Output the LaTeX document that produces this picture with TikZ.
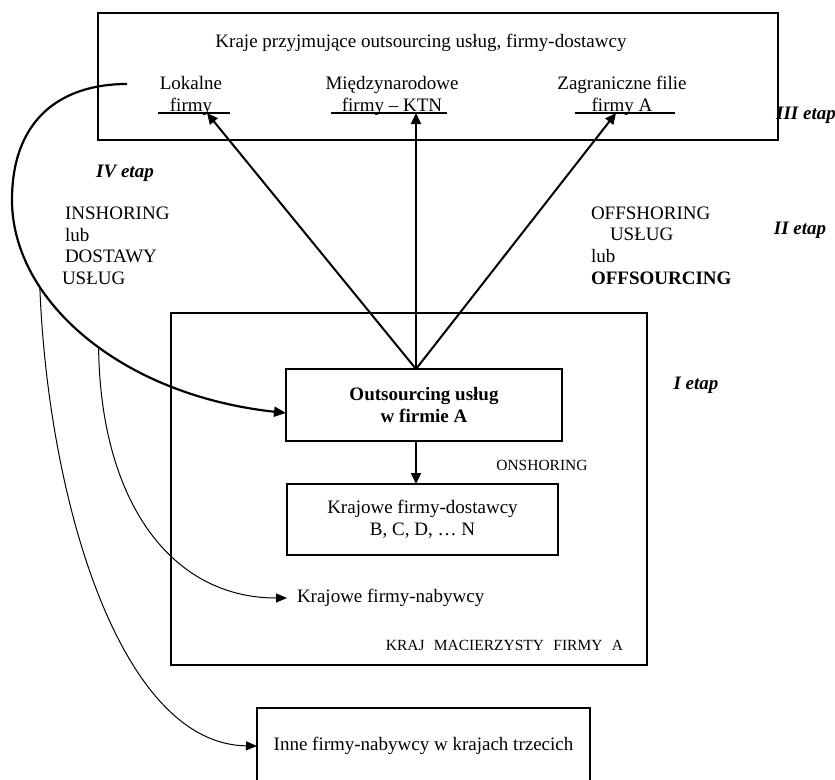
\documentclass[tikz,border=0pt]{standalone}
\usepackage{fontspec}
\setmainfont{Liberation Serif}
\usetikzlibrary{arrows.meta}
\begin{document}
\begin{tikzpicture}[x=1pt,y=-1pt,
  every node/.style={inner sep=0pt, outer sep=0pt},
  txt/.style={font=\fontsize{19}{22}\selectfont},
  small/.style={font=\fontsize{15.5}{18}\selectfont},
  etap/.style={font=\fontsize{19}{22}\selectfont\bfseries\itshape},
  frame/.style={draw, line width=1.2pt},
  bigarr/.style={line width=2pt, -{Triangle[length=11pt,width=10pt]}},
  thinarr/.style={line width=1pt, -{Triangle[length=11pt,width=9pt]}},
  uline/.style={line width=2pt},
]
\path[use as bounding box, fill=white] (0,0) rectangle (835,779);
\clip (0,0) rectangle (835,779);

% top box
\node[frame, minimum width=680pt, minimum height=127pt, anchor=north west] (top) at (98,13) {};
\node[txt] (title) at (421,43) {Kraje przyjmujące outsourcing usług, firmy-dostawcy};
\node[txt, align=center] (lok) at (191,96) {Lokalne\\firmy};
\node[txt, align=center] (mie) at (392,96) {Międzynarodowe\\firmy – KTN};
\node[txt, align=center] (zag) at (622,96) {Zagraniczne filie\\firmy A};

\coordinate (lokL) at (158,113); \coordinate (lokR) at (230,113); \coordinate (lokT) at (207,113);
\coordinate (mieL) at (331,113); \coordinate (mieR) at (447,113); \coordinate (mieT) at (416,113);
\coordinate (zagL) at (575,113); \coordinate (zagR) at (675,113); \coordinate (zagT) at (616,113);
\draw[uline] (lokL) -- (lokR);
\draw[uline] (mieL) -- (mieR);
\draw[uline] (zagL) -- (zagR);

% stage labels
\node[etap] (e3) at (806,115) {III etap};
\node[etap] (e2) at (800,230) {II etap};
\node[etap] (e4) at (125,173) {IV etap};
\node[etap] (e1) at (696,385) {I etap};

% left text block
\node[txt, anchor=west] (ins1) at (65,213) {INSHORING};
\node[txt, anchor=west] (ins2) at (65,235) {lub};
\node[txt, anchor=west] (ins3) at (65,256) {DOSTAWY};
\node[txt, anchor=west] (ins4) at (62,278) {USŁUG};

% right text block
\node[txt, anchor=west] (off1) at (591,213) {OFFSHORING};
\node[txt, anchor=west] (off2) at (610,234) {USŁUG};
\node[txt, anchor=west] (off3) at (591,256) {lub};
\node[txt, anchor=west, font=\fontsize{19}{22}\selectfont\bfseries] (off4) at (591,278) {OFFSOURCING};

% home country box
\node[frame, minimum width=476pt, minimum height=352pt, anchor=north west] (home) at (171,313) {};
\node[draw, line width=2.4pt, minimum width=276pt, minimum height=72pt, align=center,
      font=\fontsize{19}{22}\selectfont\bfseries] (outs) at (424,405) {Outsourcing usług\\w firmie A};
\node[frame, txt, minimum width=271pt, minimum height=71pt, align=center] (kd) at (422.5,519.5)
      {Krajowe firmy-dostawcy\\B, C, D, … N};
\node[small] (onsh) at (542,465) {ONSHORING};
\node[txt, anchor=west] (kn) at (297,598) {Krajowe firmy-nabywcy};
\node[small, anchor=east] (kraj) at (623,645) {KRAJ\hspace{0.6em}MACIERZYSTY\hspace{0.6em}FIRMY\hspace{0.6em}A};

% third countries box
\node[frame, minimum width=333pt, minimum height=120pt, anchor=north west] (innebox) at (257,708) {};
\node[txt] (inne) at (423.5,746) {Inne firmy-nabywcy w krajach trzecich};

% connectors
\coordinate (conv) at (416,369);
\draw[bigarr] (conv) -- (lokT);
\draw[bigarr] (conv) -- (mieT);
\draw[bigarr] (conv) -- (zagT);
\coordinate (outsB) at (416,441);
\draw[bigarr] (outsB) -- (outsB |- kd.north);

\coordinate (c4) at (127,84);
\coordinate (inY) at (0,413);
\draw[line width=2.2pt, -{Triangle[length=12pt,width=10pt]}]
  (c4) .. controls (60,84) and (12,120) .. (12,200)
  .. controls (12,300) and (120,395) .. coordinate[pos=0.3] (br2) coordinate[pos=0.54] (br1) (outs.west |- inY);

\coordinate (knIn) at (287,598);
\draw[thinarr] (br1) .. controls (100,500) and (170,598) .. (knIn);
\draw[thinarr] (br2) .. controls (48,500) and (120,744) .. (innebox.west |- inne);
\end{tikzpicture}
\end{document}
